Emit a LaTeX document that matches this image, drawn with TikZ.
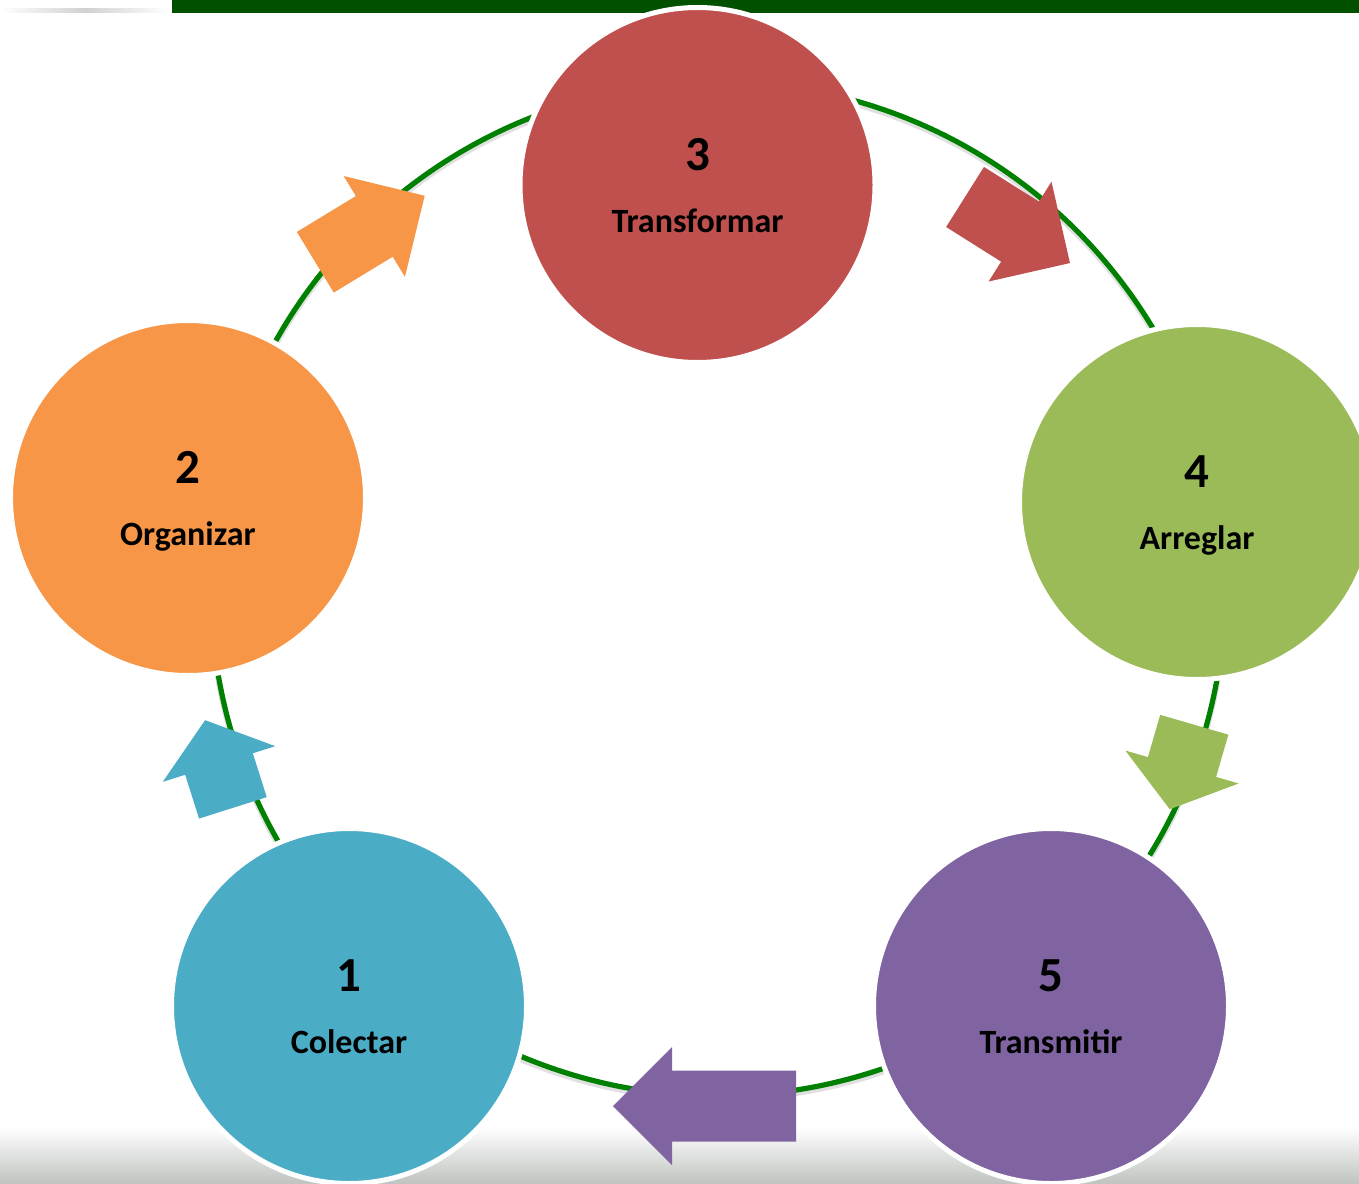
\documentclass[tikz,border=0pt]{standalone}
\usepackage{fontspec}
\setmainfont{Carlito}
\usepackage{xcolor}
\definecolor{cyblue}{RGB}{75,172,198}
\definecolor{cyorange}{RGB}{247,150,70}
\definecolor{cyred}{RGB}{192,80,77}
\definecolor{cygreen}{RGB}{155,187,89}
\definecolor{cypurple}{RGB}{128,100,162}
\definecolor{ringgreen}{RGB}{0,128,0}
\definecolor{bargreen}{RGB}{0,80,0}
\definecolor{floorgray}{RGB}{192,197,193}
\tikzstyle{ring} = [line width=2.6pt, draw=ringgreen]
\tikzstyle{stage} = [circle, minimum size=177.5pt, inner sep=0pt, draw=white, line width=2.5pt, text=black, font=\bfseries]
% number above, step name below the centre of a stage
\newcommand{\stagetext}[2]{\makebox[0pt]{\smash{\raisebox{7.5pt}{\fontsize{24.5}{24.5}\selectfont #1}}}\makebox[0pt]{\smash{\raisebox{-23.5pt}{\fontsize{17}{17}\selectfont #2}}}}
% block arrow: centre, angle, length, head length, colour
\newcommand{\cyclearrow}[5]{\fill[#5, shift={(#1)}, rotate=#2] ({-#3/2},-35.5) -- ({#3/2-#4},-35.5) -- ({#3/2-#4},-59) -- ({#3/2},0) -- ({#3/2-#4},59) -- ({#3/2-#4},35.5) -- ({-#3/2},35.5) -- cycle;}

\begin{document}
\begin{tikzpicture}[x=0.5pt, y=-0.5pt]
\useasboundingbox (0,0) rectangle (1359,1183);
\clip (0,0) rectangle (1359,1183);
\fill[white] (0,0) rectangle (1359,1183);

% Slide frame
\shade[top color=white, bottom color=floorgray] (0,1127) rectangle (1359,1183);
\fill[bargreen] (172,0) rectangle (1359,12.5);
\shade[left color=white, right color=white, middle color=black!18] (0,8) rectangle (170,12.5);

% Cycle ring
\draw[line width=3pt, black!12] (718,592) circle[radius=507];
\draw[ring] (718,589) circle[radius=507];

% Arrows
\cyclearrow{219,764}{107.6}{92}{46}{cyblue}
\cyclearrow{370,229}{31.3}{128}{59}{cyorange}
\cyclearrow{1017.5,230}{-32.2}{124}{59}{cyred}
\cyclearrow{1182,767}{-106.2}{88}{44}{cygreen}
\cyclearrow{704.5,1106}{180}{183}{59}{cypurple}

% Stages
\node[stage, fill=cyblue] (colectar) at (349,1006) {\stagetext{1}{Colectar}};
\node[stage, fill=cyorange] (organizar) at (188,498) {\stagetext{2}{Organizar}};
\node[stage, fill=cyred] (transformar) at (697.5,185) {\stagetext{3}{Transformar}};
\node[stage, fill=cygreen] (arreglar) at (1197,502) {\stagetext{4}{Arreglar}};
\node[stage, fill=cypurple] (transmitir) at (1051,1006) {\stagetext{5}{Transmitir}};
\end{tikzpicture}
\end{document}
